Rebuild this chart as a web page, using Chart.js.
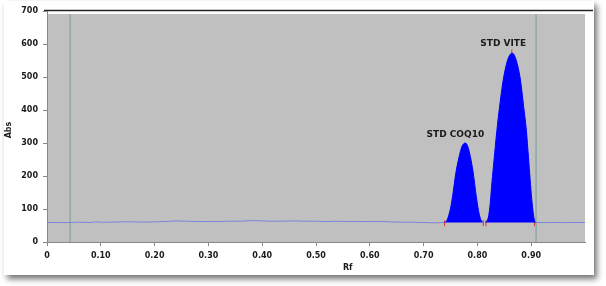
<!DOCTYPE html>
<html>
<head>
<meta charset="utf-8">
<script src="https://cdn.jsdelivr.net/npm/chart.js@4.4.0/dist/chart.umd.min.js"></script>
<style>
  html, body { margin: 0; padding: 0; background: #fff; }
</style>
</head>
<body>
<canvas id="myChart" width="606" height="286"></canvas>
<script>
// baseline trace (Rf vs Abs)
const baseRf  = [0, 0.02, 0.04, 0.06, 0.08, 0.09, 0.10, 0.12, 0.14, 0.16, 0.18, 0.20, 0.22, 0.24, 0.26, 0.28, 0.30, 0.32, 0.34, 0.36, 0.38, 0.40, 0.42, 0.44, 0.46, 0.48, 0.50, 0.52, 0.54, 0.56, 0.58, 0.60, 0.62, 0.64, 0.66, 0.68, 0.70, 0.72, 0.739];
const baseAbs = [59, 59, 59, 60, 59, 61, 60, 60, 61, 61, 60, 61, 62, 64, 63, 62, 62, 62, 63, 63, 65, 64, 63, 63, 64, 63, 63, 62, 63, 62, 62, 62, 62, 61, 60, 60, 59, 58, 59];
const tailRf  = [0.906, 0.93, 0.96, 1.0];
const tailAbs = [59, 59, 59, 59];

// STD COQ10 peak
const coqRf  = [0.739, 0.742, 0.745, 0.748, 0.751, 0.754, 0.760, 0.766, 0.771, 0.774, 0.777, 0.780, 0.783, 0.787, 0.792, 0.798, 0.801, 0.804, 0.807, 0.810];
const coqAbs = [59, 62, 72, 88, 110, 140, 210, 258, 288, 297, 300, 297, 285, 258, 212, 137, 105, 80, 66, 60];

// STD VITE peak
const viteRf  = [0.815, 0.818, 0.821, 0.824, 0.827, 0.831, 0.836, 0.842, 0.848, 0.855, 0.860, 0.864, 0.868, 0.874, 0.880, 0.886, 0.891, 0.895, 0.898, 0.901, 0.904, 0.906, 0.908];
const viteAbs = [60, 64, 80, 120, 180, 250, 335, 420, 491, 545, 566, 572, 568, 540, 491, 410, 339, 255, 190, 130, 85, 66, 59];

// integration marks and vertical markers
const markRf  = [0.739, 0.811, 0.816, 0.906, 0.864];
const markAbs = [57, 57, 57, 57, 574];
const vlineRf = [0.043, 0.909];

const peakNames = ['STD COQ10', 'STD VITE'];
const peakLabelRf = [0.759, 0.848];
const peakLabelAbs = [318, 594];

const xTicks = [0, 0.1, 0.2, 0.3, 0.4, 0.5, 0.6, 0.7, 0.8, 0.9];
const yTicks = [0, 100, 200, 300, 400, 500, 600, 700];

const toPts = (xs, ys) => xs.map((x, i) => ({ x: x, y: ys[i] }));

const tickFont = { family: 'DejaVu Sans', size: 8, weight: 'bold' };

const frame = {
    id: 'frame',
    beforeDraw(chart) {
        const ctx = chart.ctx;
        const a = chart.chartArea;
        ctx.save();
        // panel with drop shadow
        ctx.shadowColor = 'rgba(0,0,0,0.55)';
        ctx.shadowBlur = 6;
        ctx.shadowOffsetX = 3;
        ctx.shadowOffsetY = 4;
        ctx.fillStyle = '#fff';
        ctx.fillRect(4, 1, 590, 274);
        ctx.restore();
        ctx.save();
        ctx.fillStyle = '#c0c0c0';
        ctx.fillRect(a.left, a.top + 3, a.right - a.left, a.bottom - a.top - 3);
        ctx.strokeStyle = '#222';
        ctx.lineWidth = 1.5;
        ctx.beginPath();
        ctx.moveTo(a.left - 3, a.top - 0.5);
        ctx.lineTo(a.right + 8, a.top - 0.5);
        ctx.stroke();
        ctx.restore();
    },
    afterDatasetsDraw(chart) {
        const ctx = chart.ctx;
        const xs = chart.scales.x, ys = chart.scales.y;
        ctx.save();
        ctx.fillStyle = '#1a1a1a';
        ctx.font = 'bold 9px "DejaVu Sans"';
        ctx.textAlign = 'center';
        ctx.textBaseline = 'alphabetic';
        peakNames.forEach((name, i) => {
            ctx.fillText(name, xs.getPixelForValue(peakLabelRf[i]), ys.getPixelForValue(peakLabelAbs[i]));
        });
        // axis titles
        ctx.font = 'bold 8px "DejaVu Sans"';
        ctx.fillText('Rf', xs.getPixelForValue(0.559), 270);
        ctx.translate(11, 130);
        ctx.rotate(-Math.PI / 2);
        ctx.fillText('Abs', 0, 0);
        ctx.restore();
    }
};

const lineStyle = (color) => ({
    type: 'line',
    borderColor: color,
    pointRadius: 0,
    borderWidth: 1,
    fill: false
});

const datasets = [
    Object.assign(lineStyle('#0000ff'), {
        data: toPts(coqRf, coqAbs), backgroundColor: '#0000ff',
        fill: { value: 59 }, cubicInterpolationMode: 'monotone'
    }),
    Object.assign(lineStyle('#0000ff'), {
        data: toPts(viteRf, viteAbs), backgroundColor: '#0000ff',
        fill: { value: 59 }, cubicInterpolationMode: 'monotone'
    }),
    Object.assign(lineStyle('#7a84d8'), { data: toPts(baseRf, baseAbs) }),
    Object.assign(lineStyle('#7a84d8'), { data: toPts(tailRf, tailAbs) }),
    Object.assign(lineStyle('#7fa3a3'), { data: toPts([vlineRf[0], vlineRf[0]], [0, 690]), borderWidth: 1.2 }),
    Object.assign(lineStyle('#7fa3a3'), { data: toPts([vlineRf[1], vlineRf[1]], [0, 690]), borderWidth: 1.2 }),
    {
        type: 'scatter',
        data: toPts(markRf, markAbs),
        pointStyle: 'line',
        rotation: 90,
        radius: 3,
        borderColor: '#e03030',
        borderWidth: 1
    }
];

const ctx = document.querySelector('#myChart').getContext('2d');

new Chart(ctx, {
    type: 'line',
    data: { datasets: datasets },
    options: {
        responsive: false,
        animation: false,
        layout: { padding: { top: 11, right: 21, left: 0, bottom: 0 } },
        plugins: { legend: { display: false }, tooltip: { enabled: false } },
        scales: {
            x: {
                type: 'linear', min: 0, max: 1,
                afterBuildTicks: s => { s.ticks = xTicks.map(v => ({ value: v })); },
                afterFit: s => { s.height = 44; },
                grid: { drawOnChartArea: false, tickLength: 4, color: '#888' },
                border: { color: '#888' },
                ticks: {
                    font: tickFont, color: '#1a1a1a', padding: 5, maxRotation: 0,
                    callback: v => v === 0 ? '0' : v.toFixed(2)
                }
            },
            y: {
                type: 'linear', min: 0, max: 700,
                afterBuildTicks: s => { s.ticks = yTicks.map(v => ({ value: v })); },
                afterFit: s => { s.width = 47; },
                grid: { drawOnChartArea: false, tickLength: 4, color: '#888' },
                border: { color: '#888' },
                ticks: { font: tickFont, color: '#1a1a1a', padding: 5 }
            }
        }
    },
    plugins: [frame]
});
</script>
</body>
</html>
